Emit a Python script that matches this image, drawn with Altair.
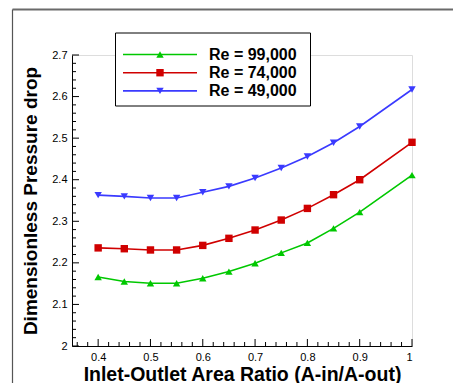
import altair as alt
import pandas as pd
import numpy as np

# ---------------- data ----------------
ratio = [0.40, 0.45, 0.50, 0.55, 0.60, 0.65, 0.70, 0.75, 0.80, 0.85, 0.90, 1.00]
re_99000 = [2.166, 2.155, 2.151, 2.151, 2.163, 2.179, 2.199, 2.224, 2.248, 2.283, 2.322, 2.411]
re_74000 = [2.236, 2.234, 2.231, 2.231, 2.242, 2.259, 2.279, 2.303, 2.331, 2.364, 2.400, 2.490]
re_49000 = [2.363, 2.360, 2.356, 2.356, 2.370, 2.384, 2.404, 2.428, 2.456, 2.489, 2.528, 2.617]

series_names = ["Re = 99,000", "Re = 74,000", "Re = 49,000"]
series_colors = ["#00c800", "#d00000", "#3a3aff"]
series_shapes = ["triangle-up", "square", "triangle-down"]

x_major = [0.4, 0.5, 0.6, 0.7, 0.8, 0.9, 1.0]
y_major = [2.0, 2.1, 2.2, 2.3, 2.4, 2.5, 2.6, 2.7]
x_domain = [0.35, 1.0]
y_domain = [2.0, 2.7]

x_title = "Inlet-Outlet Area Ratio (A-in/A-out)"
y_title = "Dimensionless Pressure drop"

# ---------------- tables ----------------
rows = []
for name, vals in zip(series_names, [re_99000, re_74000, re_49000]):
    for r, v in zip(ratio, vals):
        rows.append({"ratio": r, "value": v, "series": name})
df = pd.DataFrame(rows)

x_minor_vals = [round(v, 2) for v in np.arange(0.36, 1.0001, 0.02) if round(v * 10, 6) % 1 != 0]
y_minor_vals = [round(v, 2) for v in np.arange(2.0, 2.7001, 0.02) if round(v * 10, 6) % 1 != 0]

W, H = 340, 291
FONT = "Liberation Sans"

xs = alt.Scale(domain=x_domain, nice=False, zero=False)
ys = alt.Scale(domain=y_domain, nice=False, zero=False)
cs = alt.Scale(domain=series_names, range=series_colors)
ss = alt.Scale(domain=series_names, range=series_shapes)

x_axis = alt.Axis(values=x_major, format="~g", ticks=False, grid=False,
                  domainColor="black", domainWidth=1,
                  labelFont=FONT, labelFontSize=11, labelColor="black", labelPadding=5,
                  title=x_title, titleFont=FONT, titleFontSize=19.5, titleFontWeight="bold",
                  titleColor="black", titlePadding=3)
y_axis = alt.Axis(values=y_major, format="~g", ticks=False, grid=False,
                  domainColor="black", domainWidth=1,
                  labelFont=FONT, labelFontSize=11, labelColor="black", labelPadding=5,
                  title=y_title, titleFont=FONT, titleFontSize=19, titleFontWeight="bold",
                  titleColor="black", titlePadding=11)

X = lambda: alt.X("ratio:Q", scale=xs, axis=x_axis)
Y = lambda: alt.Y("value:Q", scale=ys, axis=y_axis)

# outer frame (decoration): top and left edges only
one_row = pd.DataFrame({"a": [0]})
frame_top = alt.Chart(one_row).mark_rule(color="#6a6a6a", strokeWidth=1.8).encode(
    x=alt.value(-59.5), x2=alt.value(390), y=alt.value(-45.5))
frame_left = alt.Chart(one_row).mark_rule(color="#555555", strokeWidth=1.2).encode(
    x=alt.value(-59.5), y=alt.value(-45.5), y2=alt.value(330))

lines = alt.Chart(df).mark_line(strokeWidth=1.6).encode(
    x=X(), y=Y(),
    color=alt.Color("series:N", scale=cs, legend=None),
    detail="series:N",
)
points = alt.Chart(df).mark_point(filled=True, size=55, opacity=1).encode(
    x=X(), y=Y(),
    color=alt.Color("series:N", scale=cs, legend=None),
    shape=alt.Shape("series:N", scale=ss, legend=None),
)

# inward ticks
def xticks(vals, L):
    return alt.Chart(pd.DataFrame({"ratio": vals})).mark_rule(color="black", strokeWidth=1).encode(
        x=X(), y=alt.value(H), y2=alt.value(H - L))

def yticks(vals, L):
    return alt.Chart(pd.DataFrame({"value": vals})).mark_rule(color="black", strokeWidth=1).encode(
        y=Y(), x=alt.value(0), x2=alt.value(L))

# manual legend
leg_layers = []
box = alt.Chart(one_row).mark_rect(
    fill="white", stroke="black", strokeWidth=1
).encode(x=alt.value(43.5), x2=alt.value(238.5), y=alt.value(-22), y2=alt.value(51))
leg_layers.append(box)
for i, (name, col, shp) in enumerate(zip(series_names, series_colors, series_shapes)):
    yy = -0.5 + 18.2 * i
    one = pd.DataFrame({"series": [name]})
    leg_layers.append(alt.Chart(one).mark_rule(color=col, strokeWidth=1.6).encode(
        x=alt.value(51), x2=alt.value(125), y=alt.value(yy)))
    leg_layers.append(alt.Chart(one).mark_point(filled=True, size=55, opacity=1, color=col, shape=shp).encode(
        x=alt.value(88), y=alt.value(yy)))
    leg_layers.append(alt.Chart(one).mark_text(
        align="left", baseline="middle", font=FONT, fontSize=16, fontWeight="bold", color="black"
    ).encode(x=alt.value(137), y=alt.value(yy + 0.5), text="series:N"))

chart = alt.layer(
    frame_top, frame_left, lines, points,
    xticks(x_major, 7), xticks(x_minor_vals, 4),
    yticks(y_major, 7), yticks(y_minor_vals, 4),
    *leg_layers,
).properties(
    width=W, height=H,
    autosize=alt.AutoSizeParams(type="none"),
    padding={"left": 64, "top": 47, "right": 41, "bottom": 37},
).configure_view(stroke="transparent").configure(background="white")

chart.save("out.html", embed_options={"renderer": "svg", "actions": False})
